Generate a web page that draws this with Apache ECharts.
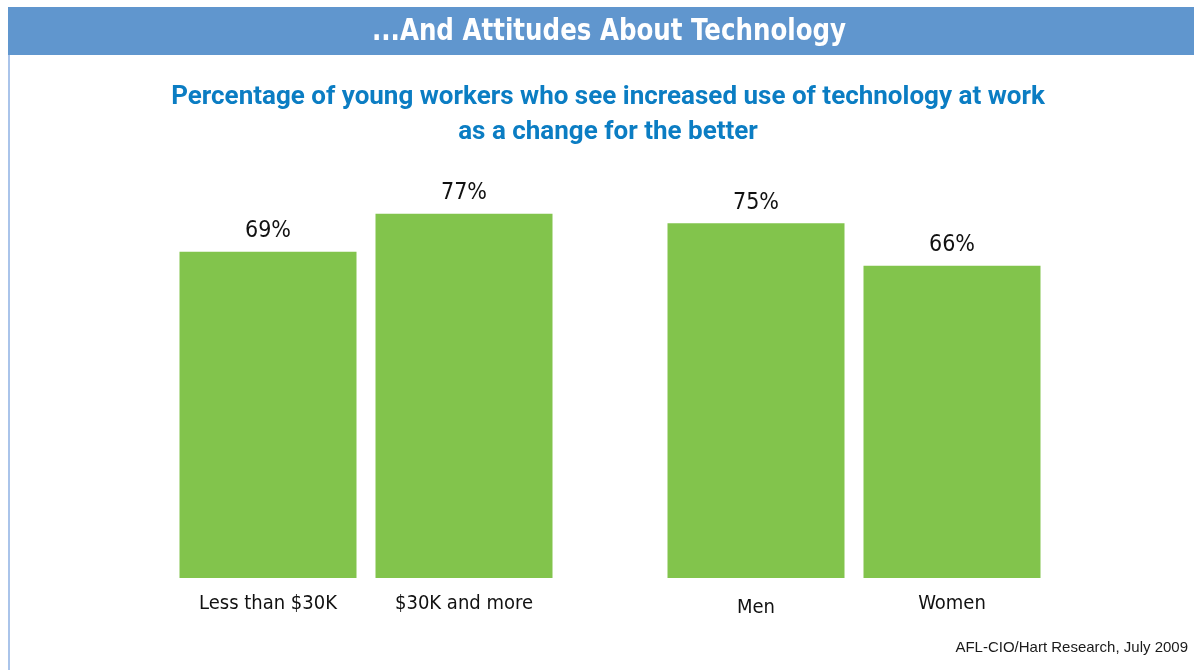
<!DOCTYPE html>
<html>
<head>
<meta charset="utf-8">
<title>...And Attitudes About Technology</title>
<script src="https://cdn.jsdelivr.net/npm/echarts@6/dist/echarts.min.js"></script>
<style>
  html, body { margin: 0; padding: 0; background: #ffffff; }
  #chart { width: 1194px; height: 670px; }
</style>
</head>
<body>
<div id="chart"></div>
<script>
// Survey results, grouped by income and by gender
const incomeCategories = ['Less than $30K', '$30K and more'];
const incomeValues = [69, 77];
const genderCategories = ['Men', 'Women'];
const genderValues = [75, 66];

const headerTitle = '...And Attitudes About Technology';
const subtitleLines = [
  'Percentage of young workers who see increased use of technology at work',
  'as a change for the better'
];
const sourceText = 'AFL-CIO/Hart Research, July 2009';

const NARROW = '"Liberation Sans Narrow", "DejaVu Sans Condensed", "Arial Narrow", sans-serif';
const BAR_COLOR = '#82c44c';

const chart = echarts.init(document.getElementById('chart'), null, { renderer: 'canvas' });

function categoryAxis(gridIndex, cats, padTop) {
  return {
    type: 'category',
    gridIndex: gridIndex,
    data: cats.map((c, i) => ({ value: c, textStyle: { padding: [padTop[i], 0, 0, 0] } })),
    axisLine: { show: false },
    axisTick: { show: false },
    axisLabel: {
      margin: 16,
      fontFamily: NARROW,
      fontSize: 20,
      color: '#111111'
    }
  };
}

function valueAxis(gridIndex) {
  return {
    type: 'value',
    gridIndex: gridIndex,
    min: 0,
    max: 100,
    show: false
  };
}

function barSeries(idx, values) {
  return {
    type: 'bar',
    xAxisIndex: idx,
    yAxisIndex: idx,
    data: values,
    barWidth: 177,
    itemStyle: { color: BAR_COLOR },
    label: {
      show: true,
      position: 'top',
      distance: 9,
      formatter: '{c}%',
      fontFamily: NARROW,
      fontSize: 23,
      color: '#111111'
    },
    silent: true
  };
}

chart.setOption({
  animation: false,
  backgroundColor: '#ffffff',
  graphic: [
    // header band
    {
      type: 'rect',
      shape: { x: 8, y: 7, width: 1186, height: 48 },
      style: { fill: '#6096ce' },
      silent: true
    },
    // left frame line
    {
      type: 'rect',
      shape: { x: 8, y: 55, width: 2, height: 615 },
      style: { fill: '#aac4ea' },
      silent: true
    },
    {
      type: 'text',
      x: 609,
      y: 32,
      scaleX: 0.88,
      style: {
        text: headerTitle,
        font: 'bold 31px ' + NARROW,
        fill: '#ffffff',
        align: 'center',
        verticalAlign: 'middle'
      },
      silent: true
    },
    {
      type: 'text',
      x: 608,
      y: 97,
      style: {
        text: subtitleLines[0],
        font: 'bold 26px Roboto, "Noto Sans", sans-serif',
        fill: '#0b7dc3',
        align: 'center',
        verticalAlign: 'middle'
      },
      silent: true
    },
    {
      type: 'text',
      x: 608,
      y: 132,
      style: {
        text: subtitleLines[1],
        font: 'bold 26px Roboto, "Noto Sans", sans-serif',
        fill: '#0b7dc3',
        align: 'center',
        verticalAlign: 'middle'
      },
      silent: true
    },
    {
      type: 'text',
      right: 6,
      top: 640,
      style: {
        text: sourceText,
        font: '15px "Liberation Sans", Arial, sans-serif',
        fill: '#1a1a1a'
      },
      silent: true
    }
  ],
  grid: [
    { left: 170, width: 392, top: 105, height: 473 },
    { left: 658, width: 392, top: 105, height: 473 }
  ],
  xAxis: [
    categoryAxis(0, incomeCategories, [0, 0]),
    categoryAxis(1, genderCategories, [4, 0])
  ],
  yAxis: [valueAxis(0), valueAxis(1)],
  series: [
    barSeries(0, incomeValues),
    barSeries(1, genderValues)
  ]
});
</script>
</body>
</html>
